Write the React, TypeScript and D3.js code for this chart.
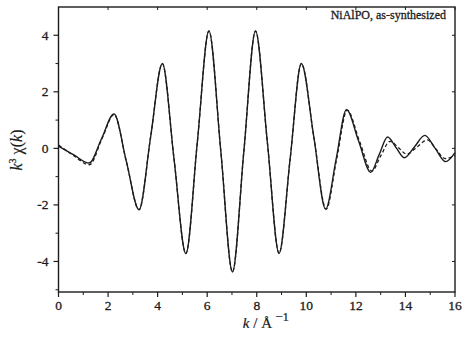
import React from "react";
import * as d3 from "d3";

const kSolid = [0, 0.6, 1.24, 1.74, 2.24, 2.74, 3.25, 3.72, 4.19, 4.66, 5.14, 5.6, 6.07, 6.55, 7.02, 7.48, 7.95, 8.43, 8.9, 9.35, 9.8, 10.3, 10.78, 11.2, 11.62, 12.11, 12.6, 12.94, 13.28, 13.62, 13.95, 14.37, 14.78, 15.2, 15.62, 16];
const ySolid = [0.08, -0.22, -0.52, 0.35, 1.22, -0.47, -2.17, 0.42, 3.0, -0.36, -3.72, 0.2, 4.15, -0.1, -4.37, -0.1, 4.15, 0.2, -3.71, -0.35, 3.0, 0.42, -2.15, -0.4, 1.37, 0.26, -0.85, -0.22, 0.4, 0.03, -0.33, 0.06, 0.46, 0.0, -0.47, -0.15];

const kDashed = [0, 0.6, 1.25, 1.75, 2.24, 2.74, 3.25, 3.72, 4.19, 4.66, 5.14, 5.6, 6.07, 6.55, 7.02, 7.48, 7.95, 8.43, 8.9, 9.35, 9.8, 10.3, 10.8, 11.22, 11.65, 12.14, 12.65, 13.0, 13.38, 13.72, 14.05, 14.47, 14.88, 15.24, 15.6, 16];
const yDashed = [0.12, -0.25, -0.58, 0.33, 1.2, -0.47, -2.17, 0.42, 3.0, -0.36, -3.72, 0.2, 4.15, -0.1, -4.37, -0.1, 4.15, 0.2, -3.71, -0.35, 3.0, 0.42, -2.15, -0.4, 1.35, 0.27, -0.8, -0.27, 0.25, 0.02, -0.2, 0.05, 0.3, -0.03, -0.36, -0.25];

const xMajor = [0, 2, 4, 6, 8, 10, 12, 14, 16];
const xMinor = [1, 3, 5, 7, 9, 11, 13, 15];
const yMajor = [-4, -2, 0, 2, 4];
const yMinor = [-5, -3, -1, 1, 3];
const title = "NiAlPO, as-synthesized";

export default function App() {
  const W = 462, H = 346;
  const L = 58.5, R = 455, T = 7, B = 292;
  const x = d3.scaleLinear().domain([0, 16]).range([L, R]);
  const y = d3.scaleLinear().domain([-5.08, 5]).range([B, T]);
  const line = d3.line<[number, number]>().x(d => x(d[0])).y(d => y(d[1])).curve(d3.curveMonotoneX);
  const solid = line(kSolid.map((k, i) => [k, ySolid[i]] as [number, number])) || "";
  const dashed = line(kDashed.map((k, i) => [k, yDashed[i]] as [number, number])) || "";
  const col = "#1c1c1c";
  const font = "'Liberation Serif', 'DejaVu Serif', serif";
  const txt = { fontFamily: font, fill: col, stroke: col, strokeWidth: 0.3 };
  return (
    <svg width={W} height={H} style={{ position: "absolute", left: 0, top: 0, background: "#fff" }}>
      <rect x={0} y={0} width={W} height={H} fill="#fff" />
      <path d={dashed} fill="none" stroke={col} strokeWidth={1.3} strokeDasharray="3.5,2.5" />
      <path d={solid} fill="none" stroke={col} strokeWidth={1.4} />
      <rect x={L} y={T} width={R - L} height={B - T} fill="none" stroke={col} strokeWidth={1.4} />
      {xMajor.map(v => (
        <g key={"xm" + v}>
          <line x1={x(v)} x2={x(v)} y1={B} y2={B + 5} stroke={col} strokeWidth={1.2} />
          <line x1={x(v)} x2={x(v)} y1={T} y2={T + 3} stroke={col} strokeWidth={1} />
          <text x={x(v)} y={310} textAnchor="middle" fontSize={13.5} {...txt}>{v}</text>
        </g>
      ))}
      {xMinor.map(v => (
        <line key={"xn" + v} x1={x(v)} x2={x(v)} y1={B} y2={B + 3} stroke={col} strokeWidth={1} />
      ))}
      {yMajor.map(v => (
        <g key={"ym" + v}>
          <line x1={L - 5} x2={L} y1={y(v)} y2={y(v)} stroke={col} strokeWidth={1.2} />
          <line x1={R - 3} x2={R} y1={y(v)} y2={y(v)} stroke={col} strokeWidth={1} />
          <text x={48.5} y={y(v) + 4.5} textAnchor="end" fontSize={13.5} {...txt}>{v}</text>
        </g>
      ))}
      {yMinor.map(v => (
        <line key={"yn" + v} x1={L - 3} x2={L} y1={y(v)} y2={y(v)} stroke={col} strokeWidth={1} />
      ))}
      <text x={446} y={19} textAnchor="end" fontSize={12} {...txt}>{title}</text>
      <text x={266} y={328} textAnchor="middle" fontSize={15} {...txt} strokeWidth={0.2}>
        <tspan fontStyle="italic">k</tspan>
        <tspan> / Å</tspan>
        <tspan dy={-7} fontSize={13}> −1</tspan>
      </text>
      <text transform={`translate(22,150) rotate(-90)`} textAnchor="middle" fontSize={16} {...txt} strokeWidth={0.2}>
        <tspan fontStyle="italic">k</tspan>
        <tspan dy={-6} fontSize={10}>3</tspan>
        <tspan dy={6}> χ(</tspan>
        <tspan fontStyle="italic">k</tspan>
        <tspan>)</tspan>
      </text>
    </svg>
  );
}
